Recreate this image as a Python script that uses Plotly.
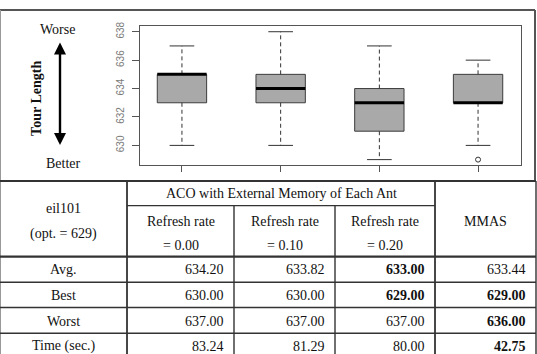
import plotly.graph_objects as go

W, H = 537, 354

# ---- box plot data (tour length) ----
positions = [1, 2, 3, 4]
q1 = [633, 633, 631, 633]
med = [635, 634, 633, 633]
q3 = [635, 635, 634, 635]
lower = [630, 630, 629, 630]
upper = [637, 638, 637, 636]
outliers = [[], [], [], [629]]
y_ticks = [630, 632, 634, 636, 638]

# ---- table data ----
table_title = ["eil101", "(opt. = 629)"]
group_header = "ACO with External Memory of Each Ant"
col_headers = [["Refresh rate", "= 0.00"], ["Refresh rate", "= 0.10"],
               ["Refresh rate", "= 0.20"]]
mmas_header = "MMAS"
row_labels = ["Avg.", "Best", "Worst", "Time (sec.)"]
values = [
    ["634.20", "633.82", "633.00", "633.44"],
    ["630.00", "630.00", "629.00", "629.00"],
    ["637.00", "637.00", "637.00", "636.00"],
    ["83.24", "81.29", "80.00", "42.75"],
]
bold = [
    [False, False, True, False],
    [False, False, True, True],
    [False, False, False, True],
    [False, False, False, True],
]


def px(x):
    return x / W


def py(y):
    return 1 - y / H


fig = go.Figure()

BW = 0.25   # half box width
CW = 0.125  # half cap width
for i, p in enumerate(positions):
    # box
    fig.add_trace(go.Scatter(
        x=[p - BW, p + BW, p + BW, p - BW, p - BW],
        y=[q1[i], q1[i], q3[i], q3[i], q1[i]],
        mode="lines", fill="toself", fillcolor="#a9a9a9",
        line=dict(color="#3c3c3c", width=1), hoverinfo="skip", showlegend=False))
    # whiskers (dashed)
    fig.add_trace(go.Scatter(
        x=[p, p, None, p, p], y=[q3[i], upper[i], None, q1[i], lower[i]],
        mode="lines", line=dict(color="#333333", width=1, dash="4px,3px"),
        hoverinfo="skip", showlegend=False))
    # caps
    fig.add_trace(go.Scatter(
        x=[p - CW, p + CW, None, p - CW, p + CW],
        y=[upper[i], upper[i], None, lower[i], lower[i]],
        mode="lines", line=dict(color="#333333", width=1),
        hoverinfo="skip", showlegend=False))
    # median
    fig.add_trace(go.Scatter(
        x=[p - BW, p + BW], y=[med[i], med[i]], mode="lines",
        line=dict(color="#000000", width=3), hoverinfo="skip", showlegend=False))
    # outliers
    if outliers[i]:
        fig.add_trace(go.Scatter(
            x=[p] * len(outliers[i]), y=outliers[i], mode="markers",
            marker=dict(symbol="circle-open", size=5, color="#333333",
                        line=dict(width=1)),
            hoverinfo="skip", showlegend=False))

shapes = []
annotations = []


def hline(x0, x1, y, w=1.2, c="#333333"):
    shapes.append(dict(type="line", xref="paper", yref="paper",
                       x0=px(x0), x1=px(x1), y0=py(y), y1=py(y),
                       line=dict(color=c, width=w)))


def vline(x, y0, y1, w=1.2, c="#333333"):
    shapes.append(dict(type="line", xref="paper", yref="paper",
                       x0=px(x), x1=px(x), y0=py(y0), y1=py(y1),
                       line=dict(color=c, width=w)))


def text(x, y, s, size=14, anchor="center", b=False, family="Liberation Serif",
         angle=0, color="#111111"):
    if b:
        s = "<b>" + s + "</b>"
    annotations.append(dict(xref="paper", yref="paper", x=px(x), y=py(y),
                            text=s, showarrow=False, xanchor=anchor,
                            yanchor="middle", textangle=angle,
                            font=dict(family=family, size=size, color=color)))


# top panel frame
hline(0, 535, 6, w=2, c="#555555")
vline(535, 6, 179, w=2, c="#555555")
vline(0.5, 6, 354, w=1, c="#999999")

# left labels
text(57, 26, "Worse", size=14)
text(63, 161, "Better", size=14)
text(37, 96, "Tour Length", size=14, b=True, angle=-90)
annotations.append(dict(xref="paper", yref="paper", x=px(60), y=py(39),
                        ax=0, ay=104, axref="pixel", ayref="pixel", text="",
                        showarrow=True, arrowside="end+start", arrowhead=2,
                        arrowsize=1.0, arrowwidth=2.4, arrowcolor="#000000"))

# table lines
hline(0, 536, 179, w=2)
hline(127, 435, 204, w=1.2)
hline(0, 536, 255.5, w=2.4)
hline(0, 536, 281.5, w=1.4)
hline(0, 536, 307, w=1.4)
hline(0, 536, 333, w=1.4)
vline(127, 179, 354, w=1.8)
vline(234, 204, 354, w=1.4)
vline(335, 204, 354, w=1.4)
vline(435, 179, 354, w=1.8)
vline(536, 179, 354, w=1.4)

# table header text
text(63.5, 207, table_title[0])
text(63.5, 233, table_title[1])
text(281, 192, group_header)
col_x = [(127, 234), (234, 335), (335, 435), (435, 536)]
for j, ch in enumerate(col_headers):
    cx = (col_x[j][0] + col_x[j][1]) / 2
    text(cx, 220, ch[0])
    text(cx, 244, ch[1])
text((col_x[3][0] + col_x[3][1]) / 2, 220, mmas_header)

row_y = [269, 295, 321, 346]
for r, lab in enumerate(row_labels):
    text(63.5, row_y[r], lab)
    for j in range(4):
        text(col_x[j][1] - 8, row_y[r], values[r][j], anchor="right",
             b=bold[r][j])

fig.update_layout(
    width=W, height=H, margin=dict(l=0, r=0, t=0, b=0),
    paper_bgcolor="white", plot_bgcolor="white",
    shapes=shapes, annotations=annotations, showlegend=False,
    xaxis=dict(domain=[px(140), px(521)], range=[0.575, 4.435],
               tickvals=positions, ticktext=["", "", "", ""],
               ticks="outside", ticklen=6, tickcolor="#555555",
               showgrid=False, zeroline=False, showline=True, mirror=True,
               linecolor="#555555", linewidth=1, fixedrange=True),
    yaxis=dict(domain=[py(163), py(22)], range=[628.61, 638.42],
               tickvals=y_ticks, ticks="outside", ticklen=7,
               tickcolor="#555555", tickangle=-90, ticklabelstandoff=4,
               tickfont=dict(family="Liberation Sans", size=10, color="#7a7a7a"),
               showgrid=False, zeroline=False, showline=True, mirror=True,
               linecolor="#555555", linewidth=1, fixedrange=True),
)

fig.write_html("out.html")
